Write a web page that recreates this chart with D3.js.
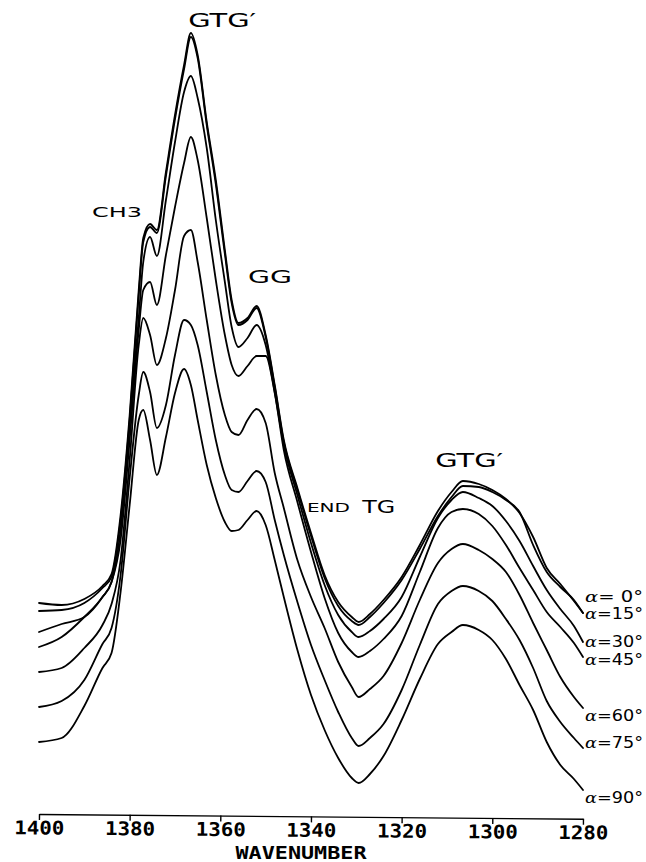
<!DOCTYPE html>
<html>
<head>
<meta charset="utf-8">
<script src="https://cdn.jsdelivr.net/npm/d3@7"></script>
<style>
  html, body { margin: 0; padding: 0; background: #fff; }
  svg { display: block; }
</style>
</head>
<body>
<script>
// Polarized IR spectra, 1400–1280 cm⁻¹, one trace per polarizer angle α.
const wavenumbers = [1400, 1395, 1390, 1386, 1384, 1382, 1380, 1378, 1377, 1375.5, 1374, 1372, 1370, 1368, 1366.5,
  1365, 1363, 1361, 1359, 1357.5, 1356, 1354, 1352, 1350, 1348, 1346, 1343, 1340, 1337, 1334, 1331, 1329.5,
  1327, 1324, 1320, 1316, 1312, 1309, 1306.5, 1303, 1300, 1297, 1294, 1291, 1288, 1285, 1282, 1280];

// Intensity in arbitrary units (traces are offset as plotted)
const alpha0  = [212,210,216,229,241,300,400,525,577,591,585,643,700,750,782,760,693,635,565,515,492,497,509,480,430,375,327,282,240,213,198,193,201,215,238,270,304,323,334,331,325,316,302,278,247,231,214,202];
const alpha15 = [204,205,212,227,238,295,395,520,573,588,582,639,696,746,778,757,690,631,561,512,490,495,507,478,428,373,325,279,237,209,194,190,198,212,235,266,299,318,329,328,323,315,303,270,243,228,215,202];
const alpha30 = [183,191,198,218,233,285,390,497,553,578,559,615,673,723,739,717,667,595,533,488,468,477,490,470,423,370,320,272,230,200,183,178,184,196,218,258,297,315,323,317,309,294,274,249,225,206,189,173];
const alpha45 = [168,178,198,218,233,275,375,485,525,533,510,560,608,652,678,655,597,535,480,450,439,449,459,459,422,365,313,263,217,182,163,158,164,176,199,243,287,303,306,301,289,270,247,225,203,188,172,158];
const alpha60 = [143,147,167,190,211,255,355,470,497,480,450,477,525,579,585,553,495,440,400,383,380,395,406,392,342,307,255,218,187,153,128,118,126,139,172,215,252,266,271,265,256,243,220,192,165,138,118,107];
const alpha75 = [108,114,135,171,187,240,337,420,443,423,387,410,460,495,490,470,423,375,340,325,323,334,344,333,295,260,213,170,135,103,77,69,77,91,125,170,211,224,229,224,214,196,175,147,114,93,77,67];
const alpha90 = [73,77,109,147,162,223,310,395,405,375,340,378,422,446,430,395,350,317,293,284,285,295,304,290,255,218,165,120,85,57,37,32,41,59,95,136,171,183,190,185,175,156,130,105,73,50,36,25];

const series = [alpha0, alpha15, alpha30, alpha45, alpha60, alpha75, alpha90];
const angleNames = ["= 0°", "=15°", "=30°", "=45°", "=60°", "=75°", "=90°"];
const tickValues = [1400, 1380, 1360, 1340, 1320, 1300, 1280];
const axisTitle = "WAVENUMBER";

// Band assignments: [text, wavenumber, level]
const bandNames = [
  ["CH3", 1388.3, 598],
  ["GTG′", 1367.1, 788],
  ["GG", 1353.9, 532],
  ["GTG′", 1312.6, 348]
];

// Layout
const W = 646, H = 862;
const labelNudge = [-11, 6, 5, 8, 13, 0, 13];

const x = d3.scaleLinear().domain([1400, 1280]).range([39, 583]);
const y = d3.scaleLinear().domain([0, 800]).range([815, 15]);

const svg = d3.select("body").append("svg")
  .attr("width", W).attr("height", H)
  .attr("viewBox", `0 0 ${W} ${H}`);

svg.append("rect").attr("width", W).attr("height", H).attr("fill", "#fff");

const line = d3.line()
  .x((d, i) => x(wavenumbers[i]))
  .y(d => y(d))
  .curve(d3.curveMonotoneX);

svg.append("g")
  .selectAll("path")
  .data(series)
  .join("path")
  .attr("d", line)
  .attr("fill", "none")
  .attr("stroke", "#000")
  .attr("stroke-width", 1.8)
  .attr("stroke-linejoin", "round")
  .attr("stroke-linecap", "round");

// Angle labels at the right end of each trace
const lab = svg.append("g");
series.forEach((s, i) => {
  const t = lab.append("text")
    .attr("x", x(1280) + 2)
    .attr("y", y(s[s.length - 1]) + labelNudge[i])
    .attr("font-size", 15)
    .attr("textLength", 58)
    .attr("lengthAdjust", "spacingAndGlyphs")
    .attr("fill", "#000");
  t.append("tspan")
    .attr("font-family", "'DejaVu Serif', serif")
    .attr("font-style", "italic")
    .text("α");
  t.append("tspan")
    .attr("font-family", "'DejaVu Sans', sans-serif")
    .text(angleNames[i]);
});

// Band labels
const bandWidths = { "CH3": 50, "GTG′": 68, "GG": 44 };
const bandSizes = { "CH3": 14, "GTG′": 19, "GG": 18 };
svg.append("g")
  .selectAll("text")
  .data(bandNames)
  .join("text")
  .attr("x", d => x(d[1]))
  .attr("y", d => y(d[2]))
  .attr("font-family", "'DejaVu Sans', sans-serif")
  .attr("font-size", d => bandSizes[d[0]])
  .attr("textLength", d => bandWidths[d[0]])
  .attr("lengthAdjust", "spacingAndGlyphs")
  .attr("fill", "#000")
  .text(d => d[0]);

// "END TG" label with small END
svg.append("text")
  .attr("x", x(1340.9)).attr("y", y(303))
  .attr("font-family", "'DejaVu Sans', sans-serif")
  .attr("font-size", 12.5)
  .attr("textLength", 43)
  .attr("lengthAdjust", "spacingAndGlyphs")
  .text("END");
svg.append("text")
  .attr("x", x(1328.7)).attr("y", y(302))
  .attr("font-family", "'DejaVu Sans', sans-serif")
  .attr("font-size", 18)
  .attr("textLength", 33)
  .attr("lengthAdjust", "spacingAndGlyphs")
  .text("TG");

// Wavenumber axis (slightly tilted like the plotter sheet)
const axis = d3.axisBottom(x)
  .tickValues(tickValues)
  .tickFormat(d3.format("d"))
  .tickSize(6)
  .tickSizeOuter(0)
  .tickPadding(1);

const gAxis = svg.append("g")
  .attr("transform", "translate(0,814) rotate(0.5,39,0)")
  .call(axis);
gAxis.select(".domain").attr("stroke", "#000").attr("stroke-width", 1.4);
gAxis.selectAll(".tick line").attr("stroke", "#000").attr("stroke-width", 1.4);
gAxis.selectAll(".tick text")
  .attr("fill", "#000")
  .attr("font-family", "'DejaVu Sans Mono', monospace")
  .attr("font-weight", "bold")
  .attr("font-size", 19)
  .attr("textLength", 50)
  .attr("lengthAdjust", "spacingAndGlyphs");

svg.append("text")
  .attr("x", 301).attr("y", 859)
  .attr("text-anchor", "middle")
  .attr("font-family", "'DejaVu Sans Mono', monospace")
  .attr("font-weight", "bold")
  .attr("font-size", 18)
  .attr("textLength", 131)
  .attr("lengthAdjust", "spacingAndGlyphs")
  .attr("fill", "#000")
  .text(axisTitle);
</script>
</body>
</html>
